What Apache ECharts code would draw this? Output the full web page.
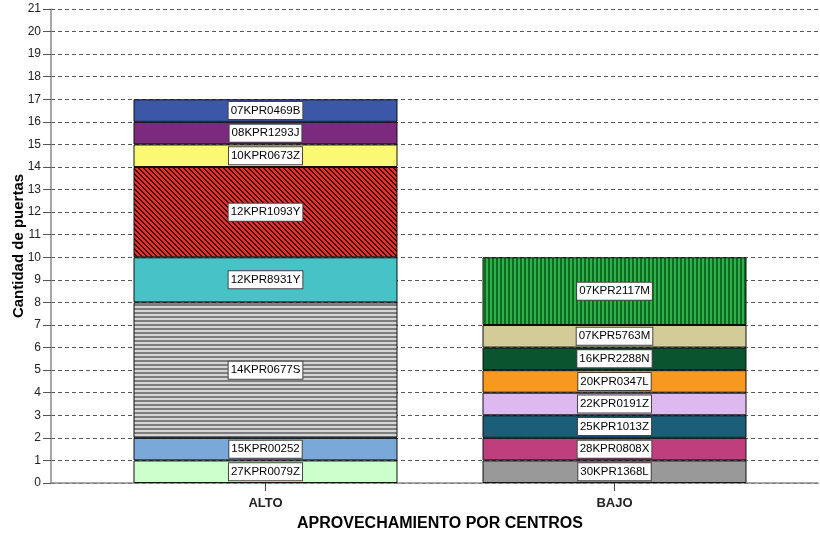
<!DOCTYPE html>
<html>
<head>
<meta charset="utf-8">
<script src="https://cdn.jsdelivr.net/npm/echarts@6/dist/echarts.min.js"></script>
<style>
  html, body { margin: 0; padding: 0; background: #fff; }
  #chart { width: 820px; height: 536px; }
</style>
</head>
<body>
<div id="chart"></div>
<script>
// categorias del eje X
const categories = ['ALTO', 'BAJO'];

// puertas por centro, de abajo hacia arriba
const altoNames = ['27KPR0079Z', '15KPR00252', '14KPR0677S', '12KPR8931Y', '12KPR1093Y', '10KPR0673Z', '08KPR1293J', '07KPR0469B'];
const altoValues = [1, 1, 6, 2, 4, 1, 1, 1];
const bajoNames = ['30KPR1368L', '28KPR0808X', '25KPR1013Z', '22KPR0191Z', '20KPR0347L', '16KPR2288N', '07KPR5763M', '07KPR2117M'];
const bajoValues = [1, 1, 1, 1, 1, 1, 1, 3];

const yTicks = [0, 21, 1]; // min, max, intervalo

// tramas tipo SPSS
function makePattern(w, h, test, c1, c2) {
  const cv = document.createElement('canvas');
  cv.width = w; cv.height = h;
  const ctx = cv.getContext('2d');
  for (let x = 0; x < w; x++) {
    for (let y = 0; y < h; y++) {
      ctx.fillStyle = test(x, y) ? c1 : c2;
      ctx.fillRect(x, y, 1, 1);
    }
  }
  return { image: cv, repeat: 'repeat' };
}
const redHatch = makePattern(5, 5, (x, y) => ((x - y + 5) % 5) < 2, '#3d0909', '#e5302e');
const grayLines = makePattern(4, 4, (x, y) => y < 2, '#7e7e7e', '#d6d6d6');
const greenLines = makePattern(4, 4, (x, y) => x < 2, '#0f6b22', '#2db24b');

const altoColors = ['#ccffcc', '#7aa8d8', grayLines, '#47c3c8', redHatch, '#fbf873', '#7c2a7e', '#3c57a7'];
const bajoColors = ['#999999', '#bf3f7e', '#1b5e77', '#ddb9f0', '#f7981f', '#0b5430', '#d3cc98', greenLines];

const font = 'Arial, "Liberation Sans", sans-serif';

function makeSeries(names, values, colors, catIndex) {
  return names.map((n, i) => {
    const data = categories.map((c, j) => (j === catIndex ? values[i] : '-'));
    return {
      name: n,
      type: 'bar',
      stack: 'total',
      xAxisIndex: 1,
      yAxisIndex: 1,
      barWidth: 264,
      data: data,
      itemStyle: { color: colors[i], borderColor: '#111', borderWidth: 1 },
      label: {
        show: true,
        position: 'inside',
        formatter: '{a}',
        color: '#000',
        fontSize: 11.5,
        fontFamily: font,
        backgroundColor: '#fff',
        borderColor: '#444',
        borderWidth: 1,
        padding: [3, 2, 2, 2]
      },
      emphasis: { disabled: true }
    };
  });
}

const chart = echarts.init(document.getElementById('chart'));
chart.setOption({
  animation: false,
  backgroundColor: '#fff',
  grid: [
    { left: 51, right: 2, top: 9, bottom: 53, outerBoundsMode: 'none', containLabel: false },
    { left: 91, right: 31, top: 9, bottom: 53, outerBoundsMode: 'none', containLabel: false }
  ],
  xAxis: [
    {
      type: 'category',
      gridIndex: 0,
      data: categories,
      axisLine: { lineStyle: { color: '#8a8a8a', width: 1.5 } },
      axisTick: { show: false },
      axisLabel: { show: false }
    },
    {
      type: 'category',
      gridIndex: 1,
      data: categories,
      axisLine: { show: false },
      axisTick: { show: true, alignWithLabel: true, length: 8, lineStyle: { color: '#444' } },
      axisLabel: { margin: 14, color: '#222', fontSize: 13, fontWeight: 'bold', fontFamily: font },
      name: 'APROVECHAMIENTO POR CENTROS',
      nameLocation: 'middle',
      nameGap: 33,
      nameMoveOverlap: false,
      nameTextStyle: { color: '#000', fontSize: 16, fontWeight: 'bold', fontFamily: font }
    }
  ],
  yAxis: [
    {
      type: 'value',
      gridIndex: 0,
      min: yTicks[0],
      max: yTicks[1],
      interval: yTicks[2],
      axisLine: { show: true, lineStyle: { color: '#8a8a8a', width: 1.5 } },
      axisTick: { show: true, length: 8, lineStyle: { color: '#555' } },
      axisLabel: { margin: 10, color: '#222', fontSize: 12, fontFamily: font },
      splitLine: { show: true, lineStyle: { color: '#555', type: [4, 3], width: 1 } },
      name: 'Cantidad de puertas',
      nameLocation: 'middle',
      nameRotate: 90,
      nameGap: 25,
      nameMoveOverlap: false,
      nameTextStyle: { color: '#000', fontSize: 15, fontWeight: 'bold', fontFamily: font }
    },
    {
      type: 'value',
      gridIndex: 1,
      min: yTicks[0],
      max: yTicks[1],
      interval: yTicks[2],
      show: false,
      splitLine: { show: false }
    }
  ],
  series: makeSeries(altoNames, altoValues, altoColors, 0)
    .concat(makeSeries(bajoNames, bajoValues, bajoColors, 1))
});
</script>
</body>
</html>
